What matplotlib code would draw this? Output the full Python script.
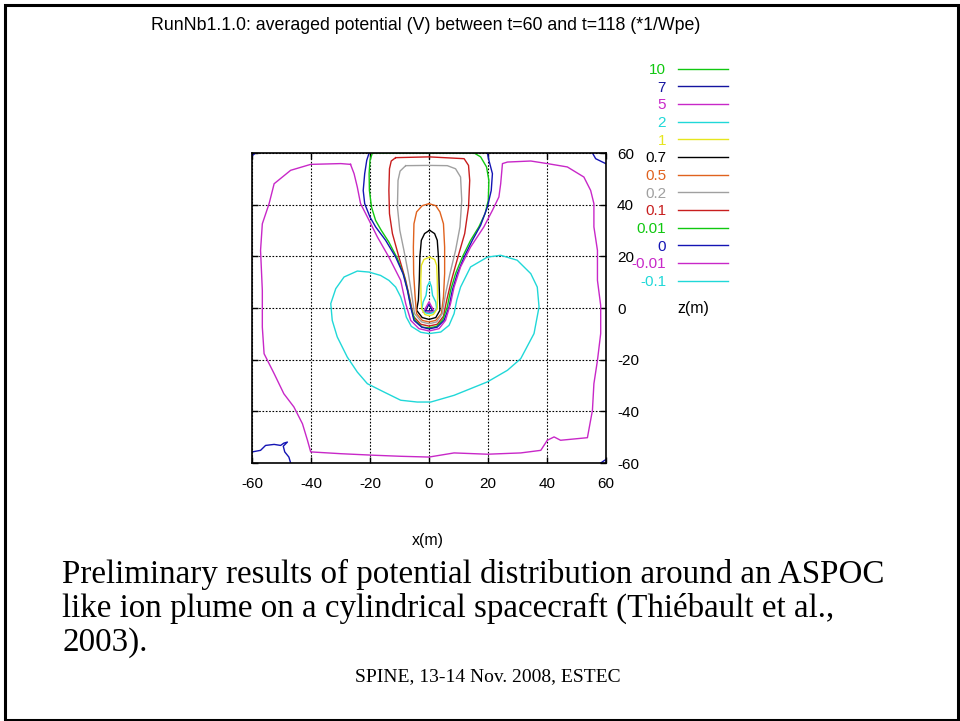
import matplotlib
matplotlib.use("Agg")
import matplotlib.pyplot as plt
from matplotlib.patches import Rectangle

# ---------------- data ----------------
title_text = "RunNb1.1.0: averaged potential (V) between t=60 and t=118 (*1/Wpe)"
tick_values = [-60, -40, -20, 0, 20, 40, 60]
level_labels = ["10", "7", "5", "2", "1", "0.7", "0.5", "0.2", "0.1", "0.01", "0", "-0.01", "-0.1"]
level_colors = ["#10c810", "#1414a0", "#c828c8", "#20d8d8", "#e6e61e", "#000000", "#e0621e",
                "#a0a0a0", "#c81e1e", "#10c810", "#1414b4", "#c828c8", "#20d8d8"]

# contour paths (x, z) in metres
c_neg001_main = [(-26.6, 55.6), (-29.9, 55.9), (-40.1, 55.6), (-46.9, 53.3), (-52.5, 48.1), (-54.2, 40.4),
                 (-56.5, 32.6), (-57.1, 22.3), (-56.5, 6.8), (-56.5, -7.4), (-55.9, -17.7), (-52.5, -25.4),
                 (-49.2, -33.2), (-45.8, -38.3), (-42.9, -44.8), (-41.2, -51.2), (-40.1, -55.7), (-29.9, -56.4),
                 (-18.6, -57.0), (-9.6, -57.4), (0.0, -57.7), (8.5, -56.1), (19.8, -56.6), (31.1, -56.1),
                 (37.9, -55.1), (40.1, -51.2), (42.4, -49.9), (44.6, -51.2), (53.7, -50.2), (55.4, -39.6),
                 (55.9, -29.3), (57.1, -20.3), (58.2, -9.9), (58.2, 1.0), (57.1, 10.7), (57.1, 22.3),
                 (55.9, 31.4), (55.9, 40.4), (54.8, 45.5), (52.5, 50.7), (46.9, 54.6), (40.1, 55.9),
                 (34.5, 56.9), (26.6, 56.5), (24.9, 55.9), (24.3, 48.1), (23.7, 43.0), (21.5, 37.8),
                 (18.6, 31.4), (14.1, 23.6), (10.7, 15.9), (8.5, 8.1), (7.3, 1.7), (5.6, -4.8), (3.4, -8.0),
                 (0.0, -8.9), (-3.4, -8.0), (-6.2, -4.8), (-7.9, 1.7), (-9.6, 10.7), (-13.6, 19.7),
                 (-17.5, 27.5), (-20.3, 33.9), (-23.2, 40.4), (-24.3, 46.8), (-25.4, 52.0), (-26.6, 55.6)]
c_neg01_main = [(0.0, -9.9), (-2.8, -9.4), (-6.0, -7.1), (-7.7, -3.5), (-8.5, 0.4), (-9.6, 4.3), (-11.3, 8.1),
                (-13.6, 10.7), (-16.4, 12.6), (-20.3, 13.9), (-24.3, 14.3), (-28.8, 12.0), (-31.6, 7.5),
                (-33.3, 1.7), (-32.8, -4.8), (-31.1, -11.2), (-27.7, -19.0), (-24.3, -24.8), (-20.9, -29.3),
                (-15.3, -32.5), (-9.6, -35.7), (-4.0, -36.4), (0.6, -36.4), (8.5, -33.8), (19.8, -28.6),
                (26.6, -24.1), (31.1, -19.6), (35.6, -9.9), (37.3, 0.4), (36.7, 8.1), (34.5, 13.3),
                (29.9, 18.5), (24.3, 20.4), (19.8, 19.7), (14.1, 15.9), (10.7, 8.1), (9.4, 3.0), (8.5, -2.2),
                (6.8, -6.7), (4.0, -9.3), (0.0, -9.9)]
c_zero_plume = [(-20.3, 60.0), (-21.1, 57.2), (-21.8, 52.0), (-22.3, 45.5), (-21.8, 40.4), (-20.0, 35.2),
                (-18.1, 31.4), (-14.7, 26.2), (-11.3, 19.7), (-8.8, 13.3), (-7.3, 6.8), (-6.2, 0.4),
                (-5.1, -4.8), (-2.5, -7.4), (0.0, -8.1), (2.8, -7.4), (5.1, -4.8), (6.8, 0.4), (7.9, 6.8),
                (9.6, 13.3), (11.9, 19.7), (14.7, 26.2), (17.5, 32.0), (19.8, 39.1), (21.1, 45.5),
                (21.5, 52.0), (20.3, 57.2), (19.8, 60.0)]
c_zero_bl = [(-59.9, -55.7), (-57.1, -55.1), (-55.4, -53.2), (-52.5, -52.8), (-50.3, -53.2), (-49.2, -52.3),
             (-48.0, -51.9), (-49.4, -53.5), (-48.9, -55.7), (-47.5, -57.7), (-46.9, -60.0)]
c_zero_tl = [(-59.9, 59.0), (-58.8, 60.0)]
c_zero_tr = [(55.4, 60.0), (56.5, 57.8), (58.8, 56.5), (59.9, 55.9)]
c_zero_br = [(58.2, -60.0), (59.9, -58.7)]
c_001_plume = [(-19.2, 60.0), (-20.0, 57.2), (-20.3, 52.0), (-20.2, 45.5), (-19.5, 39.1), (-18.1, 33.9),
               (-16.2, 30.1), (-13.6, 25.5), (-10.7, 19.1), (-8.5, 12.6), (-7.1, 6.2), (-6.0, -0.3),
               (-4.7, -4.8), (-2.3, -7.4), (0.0, -7.7), (2.6, -7.1), (4.7, -4.5), (6.2, 0.4), (7.3, 6.8),
               (9.0, 13.3), (11.3, 19.7), (14.1, 26.2), (16.9, 31.4), (19.0, 36.5), (20.1, 41.7),
               (20.3, 49.4), (19.5, 54.6), (17.5, 58.5), (15.3, 60.0), (-19.2, 60.0)]
c_01_plume = [(-11.3, 58.2), (-12.8, 56.9), (-13.4, 53.9), (-13.6, 45.5), (-13.4, 36.5), (-12.4, 28.8),
              (-10.2, 19.7), (-7.9, 10.7), (-6.4, 3.0), (-5.3, -3.2), (-2.8, -6.3), (0.0, -7.0), (2.8, -6.3),
              (4.9, -3.2), (6.0, 3.0), (7.6, 10.7), (9.8, 19.7), (12.1, 28.8), (13.4, 39.1), (13.8, 49.4),
              (13.4, 55.2), (11.9, 57.8), (0.0, 58.5), (-11.3, 58.2)]
c_02_plume = [(-7.9, 55.1), (-9.8, 53.0), (-10.5, 49.4), (-10.7, 39.1), (-9.9, 30.1), (-8.5, 22.3),
              (-7.0, 13.3), (-5.9, 5.5), (-4.9, -2.2), (-2.5, -5.4), (0.0, -6.1), (2.6, -5.4), (4.5, -2.2),
              (5.6, 5.5), (7.1, 13.3), (9.0, 22.3), (10.5, 31.4), (11.1, 41.7), (10.7, 50.7), (9.0, 53.9),
              (6.2, 55.1), (0.0, 55.2), (-7.9, 55.1)]
c_05_plume = [(0.0, 40.4), (-2.3, 39.6), (-4.2, 37.2), (-5.1, 32.6), (-5.3, 23.6), (-5.2, 13.3), (-4.7, 4.3),
              (-4.2, -2.2), (-2.3, -4.8), (0.0, -5.4), (2.3, -4.8), (4.2, -2.2), (4.9, 4.3), (5.3, 13.3),
              (5.3, 23.6), (4.9, 32.6), (3.7, 37.2), (2.3, 39.6), (0.0, 40.4)]
c_07_plume = [(0.2, 30.1), (-1.5, 28.8), (-2.6, 26.2), (-3.1, 19.7), (-3.3, 10.7), (-3.6, 3.0), (-4.2, -0.9),
              (-2.3, -3.7), (0.0, -4.4), (2.3, -3.7), (3.7, -0.9), (3.6, 3.0), (3.4, 10.7), (3.2, 19.7),
              (2.8, 26.2), (1.9, 28.8), (0.2, 30.1)]
c_1_plume = [(0.2, 19.7), (-1.7, 18.8), (-2.6, 16.5), (-2.8, 10.7), (-2.7, 4.3), (-2.5, -0.3), (-1.4, -2.5),
             (0.0, -3.0), (1.5, -2.5), (2.8, -0.3), (2.9, 4.3), (2.8, 10.7), (2.6, 16.5), (1.9, 18.8), (0.2, 19.7)]
c_2_core = [(0.2, 10.1), (-0.6, 8.4), (-1.0, 4.9), (-2.0, 2.3), (-2.4, -0.3), (-1.4, -1.8), (0.0, -2.2),
            (1.5, -1.8), (2.6, -0.3), (2.3, 2.3), (1.2, 4.9), (0.8, 8.4), (0.2, 10.1)]
c_5_core = [(-1.9, -1.6), (1.9, -1.6), (0.0, 2.4), (-1.9, -1.6)]
c_7_core = [(-1.2, -1.1), (1.2, -1.1), (0.0, 1.5), (-1.2, -1.1)]

contours = {
    "10": [],
    "7": [c_7_core],
    "5": [c_5_core],
    "2": [c_2_core],
    "1": [c_1_plume],
    "0.7": [c_07_plume],
    "0.5": [c_05_plume],
    "0.2": [c_02_plume],
    "0.1": [c_01_plume],
    "0.01": [c_001_plume],
    "0": [c_zero_plume, c_zero_bl, c_zero_tl, c_zero_tr, c_zero_br],
    "-0.01": [c_neg001_main],
    "-0.1": [c_neg01_main],
}

caption_lines = ["Preliminary results of potential distribution around an ASPOC",
                 "like ion plume on a cylindrical spacecraft (Thi\u00e9bault et al.,",
                 "2003)."]
footer_text = "SPINE, 13-14 Nov. 2008, ESTEC"

# ---------------- figure ----------------
W, H = 960, 721
fig = plt.figure(figsize=(W / 100, H / 100), dpi=100)
fig.patch.set_facecolor("white")
sans = ["Liberation Sans", "DejaVu Sans"]
serif = ["Liberation Serif", "DejaVu Serif"]

# slide border
fig.patches.append(Rectangle((4.5 / W, 1 - 720 / H), (958 - 4.5) / W, (720 - 5) / H,
                             transform=fig.transFigure, fill=False, edgecolor="black", linewidth=2.2))

ax = fig.add_axes([252 / W, 1 - 463 / H, 354 / W, 310 / H])
handles = []
for lab, col in zip(level_labels, level_colors):
    paths = contours[lab]
    line = None
    for p in paths:
        xs, zs = zip(*p)
        l, = ax.plot(xs, zs, color=col, linewidth=1.0, label=lab if line is None else None)
        if line is None:
            line = l
    if line is None:
        line, = ax.plot([], [], color=col, linewidth=1.0, label=lab)
    handles.append(line)

ax.set_xlim(-60, 60)
ax.set_ylim(-60, 60)
ax.set_xticks(tick_values)
ax.set_yticks(tick_values)
ax.set_xticklabels([str(v) for v in tick_values], fontfamily=sans, fontsize=11)
ax.set_yticklabels([str(v) for v in tick_values], fontfamily=sans, fontsize=11)
ax.tick_params(axis="both", direction="in", length=4, width=1.0, top=True, bottom=True,
               left=True, right=True, labelleft=False, labelright=True, color="black")
ax.tick_params(axis="x", pad=10)
ax.tick_params(axis="y", pad=8)
ax.grid(True, color="black", linestyle=(0, (1.5, 1.5)), linewidth=0.8)
for s in ax.spines.values():
    s.set_linewidth(1.2)

leg = ax.legend(handles=handles, loc="upper right", bbox_to_anchor=(728 / W, 1 - 63 / H),
                bbox_transform=fig.transFigure, frameon=False, markerfirst=False,
                labelcolor="linecolor", prop={"family": sans, "size": 11},
                handlelength=3.3, handletextpad=0.75, labelspacing=0.24, borderpad=0,
                borderaxespad=0)

fig.text(426 / W, 1 - 25 / H, title_text, ha="center", va="center", fontsize=12.8, family=sans)
fig.text(428 / W, 1 - 541 / H, "x(m)", ha="center", va="center", fontsize=11.5, family=sans)
fig.text(677 / W, 1 - 309 / H, "z(m)", ha="left", va="center", fontsize=11.5, family=sans)

for line_txt, base in zip(caption_lines, [583, 617, 651]):
    fig.text(62 / W, 1 - base / H, line_txt, ha="left", va="baseline", fontsize=23.8, family=serif)
fig.text(488 / W, 1 - 681 / H, footer_text, ha="center", va="baseline", fontsize=14, family=serif)

fig.savefig("out.png", dpi=100)
